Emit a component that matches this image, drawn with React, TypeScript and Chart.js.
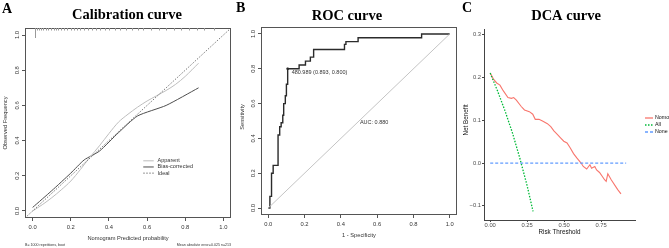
import React, { useEffect, useRef } from "react";
import { Chart, registerables } from "chart.js";
Chart.register(...registerables);

// ---------- Panel A: calibration ----------
const calTicks = [0, 0.2, 0.4, 0.6, 0.8, 1.0];
const calTickLabels = ["0.0", "0.2", "0.4", "0.6", "0.8", "1.0"];
const apparentX = [0.0, 0.05, 0.1, 0.15, 0.2, 0.25, 0.3, 0.35, 0.4, 0.45, 0.5, 0.55, 0.6, 0.65, 0.7, 0.75, 0.8, 0.87];
const apparentY = [0.0, 0.035, 0.075, 0.12, 0.17, 0.235, 0.305, 0.37, 0.44, 0.505, 0.55, 0.59, 0.625, 0.655, 0.685, 0.72, 0.765, 0.84];
const biasX = [0.0, 0.1, 0.2, 0.27, 0.35, 0.45, 0.55, 0.7, 0.87];
const biasY = [0.02, 0.115, 0.215, 0.29, 0.34, 0.445, 0.54, 0.6, 0.7];
const idealX = [-0.04, 1.04];
const rugX = [0.01, 0.025, 0.035, 0.045, 0.055, 0.07, 0.08, 0.095, 0.11, 0.12, 0.135, 0.15, 0.165, 0.18, 0.2, 0.215, 0.23, 0.25, 0.27, 0.29, 0.31, 0.33, 0.355, 0.38, 0.4, 0.43, 0.46, 0.49, 0.52, 0.55, 0.58, 0.62, 0.66, 0.7, 0.74, 0.78, 0.82, 0.86, 0.9, 0.95];
const rugN = [4, 1, 1, 1, 1, 1, 1, 1, 1, 1, 1, 1, 1, 1, 1, 1, 1, 1, 1, 1, 1, 1, 1, 1, 1, 1, 1, 1, 1, 1, 1, 1, 1, 1, 1, 1, 1, 1, 1, 1];
const calLegend = ["Apparent", "Bias-corrected", "Ideal"];

// ---------- Panel B: ROC ----------
const rocTicks = [0, 0.2, 0.4, 0.6, 0.8, 1.0];
const rocTickLabels = ["0.0", "0.2", "0.4", "0.6", "0.8", "1.0"];
const rocFpr = [0, 0.009, 0.009, 0.018, 0.018, 0.027, 0.027, 0.054, 0.054, 0.063, 0.063, 0.071, 0.071, 0.08, 0.08, 0.085, 0.085, 0.094, 0.094, 0.1, 0.1, 0.107, 0.107, 0.17, 0.17, 0.205, 0.205, 0.232, 0.232, 0.25, 0.25, 0.42, 0.42, 0.428, 0.428, 0.495, 0.495, 0.845, 0.845, 1.0];
const rocTpr = [0, 0, 0.067, 0.067, 0.2, 0.2, 0.245, 0.245, 0.42, 0.42, 0.467, 0.467, 0.49, 0.49, 0.533, 0.533, 0.6, 0.6, 0.645, 0.645, 0.711, 0.711, 0.8, 0.8, 0.822, 0.822, 0.844, 0.844, 0.867, 0.867, 0.911, 0.911, 0.94, 0.94, 0.956, 0.956, 0.978, 0.978, 1.0, 1.0];
const bestFpr = 0.107;
const bestTpr = 0.8;
const bestLabel = "480.989 (0.893, 0.800)";
const aucLabel = "AUC: 0.880";

// ---------- Panel C: DCA ----------
const dcaXTicks = [0, 0.25, 0.5, 0.75];
const dcaXTickLabels = ["0.00", "0.25", "0.50", "0.75"];
const dcaYTicks = [-0.1, 0, 0.1, 0.2, 0.3];
const dcaYTickLabels = ["\u22120.1", "0.0", "0.1", "0.2", "0.3"];
const nomoX = [0, 0.022, 0.044, 0.066, 0.088, 0.12, 0.144, 0.159, 0.177, 0.21, 0.232, 0.265, 0.288, 0.305, 0.33, 0.354, 0.387, 0.41, 0.431, 0.454, 0.476, 0.498, 0.52, 0.542, 0.564, 0.586, 0.615, 0.63, 0.653, 0.675, 0.686, 0.708, 0.72, 0.74, 0.774, 0.785, 0.796, 0.819, 0.863, 0.885];
const nomoY = [0.21, 0.196, 0.187, 0.182, 0.169, 0.153, 0.151, 0.153, 0.147, 0.132, 0.124, 0.12, 0.114, 0.102, 0.102, 0.098, 0.092, 0.085, 0.075, 0.067, 0.059, 0.051, 0.047, 0.035, 0.022, 0.012, 0, -0.008, -0.014, -0.004, -0.012, -0.008, -0.016, -0.022, -0.039, -0.043, -0.025, -0.039, -0.062, -0.072];
const allX = [0, 0.05, 0.1, 0.15, 0.2, 0.25, 0.29];
const allY = [0.21, 0.168, 0.122, 0.071, 0.012, -0.053, -0.113];
const noneX = [0, 0.92];
const noneY = [0, 0];
const dcaLegend = ["Nomo", "All", "None"];
const dcaColors = ["#F8766D", "#00BA38", "#619CFF"];

const SANS = "'Liberation Sans', Arial, sans-serif";
const SERIF = "'Liberation Serif', 'Times New Roman', serif";

function txt(ctx: CanvasRenderingContext2D, s: string, x: number, y: number, font: string, color: string, align: CanvasTextAlign = "center", rot = 0) {
  ctx.save();
  ctx.translate(x, y);
  ctx.rotate(rot);
  ctx.font = font;
  ctx.fillStyle = color;
  ctx.textAlign = align;
  ctx.textBaseline = "middle";
  ctx.fillText(s, 0, 0);
  ctx.restore();
}

function pts(xs: number[], ys: number[]) {
  return xs.map((x, i) => ({ x, y: ys[i] }));
}

function scale(min: number, max: number, ticks: number[], axis: "x" | "y", tickLen: number, color: string, border = false) {
  return {
    type: "linear",
    min,
    max,
    afterBuildTicks: (s: any) => {
      s.ticks = ticks.map((v) => ({ value: v }));
    },
    afterFit: (s: any) => {
      if (axis === "x") s.height = 0;
      else s.width = 0;
    },
    ticks: { display: false },
    grid: { display: true, drawOnChartArea: false, drawTicks: true, tickLength: tickLen, color, lineWidth: 1 },
    border: { display: border, color, width: 1 },
  };
}

function baseOptions(padding: any, xs: any, ys: any) {
  return {
    animation: false,
    responsive: false,
    devicePixelRatio: 1,
    layout: { padding },
    plugins: { legend: { display: false }, tooltip: { enabled: false }, title: { display: false } },
    scales: { x: xs, y: ys },
    elements: { point: { radius: 0 } },
  };
}

function drawBox(ctx: CanvasRenderingContext2D, ca: any) {
  ctx.save();
  ctx.strokeStyle = "#555";
  ctx.lineWidth = 1;
  ctx.strokeRect(Math.round(ca.left) + 0.5, Math.round(ca.top) + 0.5, Math.round(ca.right - ca.left) - 1, Math.round(ca.bottom - ca.top) - 1);
  ctx.restore();
}

// canvas placement (page px)
const A_LEFT = 0, A_W = 240;
const B_LEFT = 228, B_W = 237;
const C_LEFT = 455, C_W = 214;

function cfgA(): any {
  const plugin = {
    id: "calText",
    afterDraw(chart: any) {
      const { ctx, chartArea: ca, scales } = chart;
      const x = scales.x, y = scales.y;
      drawBox(ctx, ca);
      ctx.save();
      ctx.strokeStyle = "#999";
      ctx.lineWidth = 1;
      rugX.forEach((v, i) => {
        const px = Math.round(x.getPixelForValue(v)) + 0.5;
        ctx.beginPath();
        ctx.moveTo(px, ca.top);
        ctx.lineTo(px, ca.top + 2.5 * rugN[i]);
        ctx.stroke();
      });
      ctx.restore();
      const f = `5.8px ${SANS}`;
      calTicks.forEach((v, i) => {
        txt(ctx, calTickLabels[i], x.getPixelForValue(v), ca.bottom + 9, f, "#333");
        txt(ctx, calTickLabels[i], ca.left - 8, y.getPixelForValue(v), f, "#333", "center", -Math.PI / 2);
      });
      txt(ctx, "Nomogram Predicted probability", (ca.left + ca.right) / 2, ca.bottom + 20, `5.7px ${SANS}`, "#333");
      txt(ctx, "Observed Frequency", 5, (ca.top + ca.bottom) / 2, `5.7px ${SANS}`, "#333", "center", -Math.PI / 2);
      txt(ctx, "B= 1000 repetitions, boot", ca.left, ca.bottom + 27, `3.6px ${SANS}`, "#333", "left");
      txt(ctx, "Mean absolute error=0.025 n=213", ca.right, ca.bottom + 27, `3.6px ${SANS}`, "#333", "right");
      const lx0 = x.getPixelForValue(0.58), lx1 = x.getPixelForValue(0.635), tx = x.getPixelForValue(0.655);
      const ly = [y.getPixelForValue(0.285), y.getPixelForValue(0.25), y.getPixelForValue(0.215)];
      const styles = [
        { c: "#bdbdbd", d: [] as number[] },
        { c: "#4d4d4d", d: [] as number[] },
        { c: "#777", d: [1.5, 1.5] },
      ];
      calLegend.forEach((s, i) => {
        ctx.save();
        ctx.strokeStyle = styles[i].c;
        ctx.setLineDash(styles[i].d);
        ctx.lineWidth = 1;
        ctx.beginPath();
        ctx.moveTo(lx0, ly[i]);
        ctx.lineTo(lx1, ly[i]);
        ctx.stroke();
        ctx.restore();
        txt(ctx, s, tx, ly[i], `5.5px ${SANS}`, "#333", "left");
      });
      txt(ctx, "A", 2 - A_LEFT, 9, `bold 14px ${SERIF}`, "#000", "left");
      txt(ctx, "Calibration curve", 127 - A_LEFT, 15, `bold 14.5px ${SERIF}`, "#000");
    },
  };
  return {
    type: "scatter",
    data: {
      datasets: [
        { data: pts(idealX, idealX), showLine: true, borderColor: "#777", borderDash: [1.5, 1.5], borderWidth: 1, pointRadius: 0 },
        { data: pts(apparentX, apparentY), showLine: true, borderColor: "#bdbdbd", borderWidth: 1, pointRadius: 0, tension: 0.3 },
        { data: pts(biasX, biasY), showLine: true, borderColor: "#4d4d4d", borderWidth: 1, pointRadius: 0, tension: 0.2 },
      ],
    },
    options: baseOptions(
      { left: 25 - A_LEFT, top: 28, right: A_LEFT + A_W - 231, bottom: 30 },
      scale(-0.04, 1.04, calTicks, "x", 3, "#555"),
      scale(-0.04, 1.04, calTicks, "y", 3, "#555")
    ),
    plugins: [plugin],
  };
}

function cfgB(): any {
  const plugin = {
    id: "rocText",
    afterDraw(chart: any) {
      const { ctx, chartArea: ca, scales } = chart;
      const x = scales.x, y = scales.y;
      drawBox(ctx, ca);
      const f = `5.8px ${SANS}`;
      rocTicks.forEach((v, i) => {
        txt(ctx, rocTickLabels[i], x.getPixelForValue(v), ca.bottom + 9, f, "#333");
        txt(ctx, rocTickLabels[i], ca.left - 8, y.getPixelForValue(v), f, "#333", "center", -Math.PI / 2);
      });
      txt(ctx, "1 - Specificity", (ca.left + ca.right) / 2, ca.bottom + 20, `5.7px ${SANS}`, "#333");
      txt(ctx, "Sensitivity", 242 - B_LEFT, (ca.top + ca.bottom) / 2 - 4, `5.7px ${SANS}`, "#333", "center", -Math.PI / 2);
      txt(ctx, aucLabel, x.getPixelForValue(0.505), y.getPixelForValue(0.49), `5.5px ${SANS}`, "#333", "left");
      txt(ctx, bestLabel, x.getPixelForValue(0.129), y.getPixelForValue(0.78), `5.5px ${SANS}`, "#333", "left");
      txt(ctx, "B", 236 - B_LEFT, 8, `bold 14px ${SERIF}`, "#000", "left");
      txt(ctx, "ROC curve", 347 - B_LEFT, 16, `bold 14.5px ${SERIF}`, "#000");
    },
  };
  return {
    type: "scatter",
    data: {
      datasets: [
        { data: pts([0, 1], [0, 1]), showLine: true, borderColor: "#c4c4c4", borderWidth: 1, pointRadius: 0 },
        { data: pts(rocFpr, rocTpr), showLine: true, borderColor: "#2b2b2b", borderWidth: 1.4, pointRadius: 0 },
        { data: pts([bestFpr], [bestTpr]), showLine: false, pointRadius: 1.3, backgroundColor: "#000", borderColor: "#000", borderWidth: 0 },
      ],
    },
    options: baseOptions(
      { left: 261 - B_LEFT, top: 27, right: B_LEFT + B_W - 457, bottom: 33 },
      scale(-0.04, 1.04, rocTicks, "x", 3, "#555"),
      scale(-0.04, 1.04, rocTicks, "y", 3, "#555")
    ),
    plugins: [plugin],
  };
}

function cfgC(): any {
  const plugin = {
    id: "dcaText",
    afterDraw(chart: any) {
      const { ctx, chartArea: ca, scales } = chart;
      const x = scales.x, y = scales.y;
      const f = `5.8px ${SANS}`;
      dcaXTicks.forEach((v, i) => txt(ctx, dcaXTickLabels[i], x.getPixelForValue(v), ca.bottom + 5, f, "#4d4d4d"));
      dcaYTicks.forEach((v, i) => txt(ctx, dcaYTickLabels[i], ca.left - 3, y.getPixelForValue(v), f, "#4d4d4d", "right"));
      txt(ctx, "Risk Threshold", (ca.left + ca.right) / 2, ca.bottom + 12, `6.3px ${SANS}`, "#111");
      txt(ctx, "Net Benefit", 466 - C_LEFT, 120, `6.3px ${SANS}`, "#111", "center", -Math.PI / 2);
      const lk0 = ca.right + 10, lk1 = ca.right + 18, lt = ca.right + 20;
      const dashes = [[], [1.5, 1.5], [3, 2]];
      dcaLegend.forEach((s, i) => {
        const ly = 118 + i * 7;
        ctx.save();
        ctx.strokeStyle = dcaColors[i];
        ctx.lineWidth = 1.3;
        ctx.setLineDash(dashes[i]);
        ctx.beginPath();
        ctx.moveTo(lk0, ly);
        ctx.lineTo(lk1, ly);
        ctx.stroke();
        ctx.restore();
        txt(ctx, s, lt, ly, `5.3px ${SANS}`, "#111", "left");
      });
      txt(ctx, "C", 462 - C_LEFT, 8, `bold 14px ${SERIF}`, "#000", "left");
      txt(ctx, "DCA curve", 566 - C_LEFT, 16, `bold 14.5px ${SERIF}`, "#000");
    },
  };
  return {
    type: "scatter",
    data: {
      datasets: [
        { data: pts(noneX, noneY), showLine: true, borderColor: dcaColors[2], borderDash: [3, 2], borderWidth: 1.2, pointRadius: 0 },
        { data: pts(allX, allY), showLine: true, borderColor: dcaColors[1], borderDash: [1.5, 1.5], borderWidth: 1.3, pointRadius: 0 },
        { data: pts(nomoX, nomoY), showLine: true, borderColor: dcaColors[0], borderWidth: 1.1, pointRadius: 0 },
      ],
    },
    options: baseOptions(
      { left: 484 - C_LEFT, top: 29, right: C_LEFT + C_W - 635, bottom: 28 },
      scale(-0.042, 0.98, dcaXTicks, "x", 2, "#444", true),
      scale(-0.133, 0.313, dcaYTicks, "y", 2, "#444", true)
    ),
    plugins: [plugin],
  };
}

export default function App() {
  const a = useRef<HTMLCanvasElement>(null);
  const b = useRef<HTMLCanvasElement>(null);
  const c = useRef<HTMLCanvasElement>(null);
  useEffect(() => {
    const charts = [new Chart(a.current!, cfgA()), new Chart(b.current!, cfgB()), new Chart(c.current!, cfgC())];
    return () => charts.forEach((ch) => ch.destroy());
  }, []);
  return (
    <div style={{ position: "fixed", left: 0, top: 0, width: 669, height: 248, background: "#fff", overflow: "hidden" }}>
      <canvas ref={a} width={A_W} height={248} style={{ position: "absolute", left: A_LEFT, top: 0 }} />
      <canvas ref={b} width={B_W} height={248} style={{ position: "absolute", left: B_LEFT, top: 0 }} />
      <canvas ref={c} width={C_W} height={248} style={{ position: "absolute", left: C_LEFT, top: 0 }} />
    </div>
  );
}
